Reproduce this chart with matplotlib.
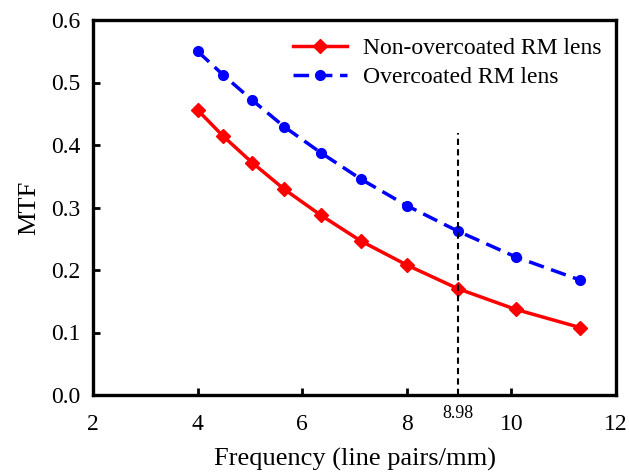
import matplotlib
matplotlib.use("Agg")
import matplotlib.pyplot as plt

freq = [4.0, 4.49, 5.04, 5.66, 6.35, 7.13, 8.0, 8.98, 10.08, 11.31]
mtf_non = [0.456, 0.414, 0.372, 0.329, 0.288, 0.246, 0.208, 0.170, 0.137, 0.108]
mtf_over = [0.550, 0.512, 0.472, 0.429, 0.388, 0.345, 0.303, 0.262, 0.221, 0.184]
xticks = [2, 4, 6, 8, 10, 12]
yticks = [0.0, 0.1, 0.2, 0.3, 0.4, 0.5, 0.6]
marker_freq = 8.98
marker_top = 0.42

plt.rcParams['font.family'] = ['Liberation Serif', 'DejaVu Serif']
plt.rcParams['mathtext.fontset'] = 'stix'

fig = plt.figure(figsize=(6.29, 4.75), dpi=100)
ax = fig.add_axes([93/629, 1-395/475, (616-93)/629, (395-20)/475])

ax.plot(freq, mtf_non, color='#ff0000', lw=2.5, marker='D', ms=7, label='Non-overcoated RM lens')
ax.plot(freq, mtf_over, color='#0000ff', lw=2.5, ls=(0, (4.5, 2.2)), marker='o', ms=7, label='Overcoated RM lens')
ax.plot([marker_freq, marker_freq], [0, marker_top], color='black', lw=1.5, ls=(0, (3, 2)))
ax.text(marker_freq, -0.016, f'{marker_freq:.2f}', ha='center', va='top', fontsize=13)

ax.set_xlim(2, 12)
ax.set_ylim(0, 0.6)
ax.set_xticks(xticks)
ax.set_yticks(yticks)
ax.set_yticklabels([f'{v:.1f}' for v in yticks])
ax.tick_params(direction='in', length=5, width=2, labelsize=17, pad=9)
ax.tick_params(axis='x', pad=14)
for s in ax.spines.values():
    s.set_linewidth(2.4)

ax.set_xlabel('Frequency (line pairs/mm)', fontsize=19, labelpad=9)
ax.set_ylabel('MTF', fontsize=19, labelpad=8)

ax.legend(loc='upper right', frameon=False, fontsize=17, handlelength=2.3,
          borderaxespad=0.2, labelspacing=0.3, handletextpad=0.7,
          bbox_to_anchor=(1.0, 0.99))

fig.savefig('out.png', dpi=100)
